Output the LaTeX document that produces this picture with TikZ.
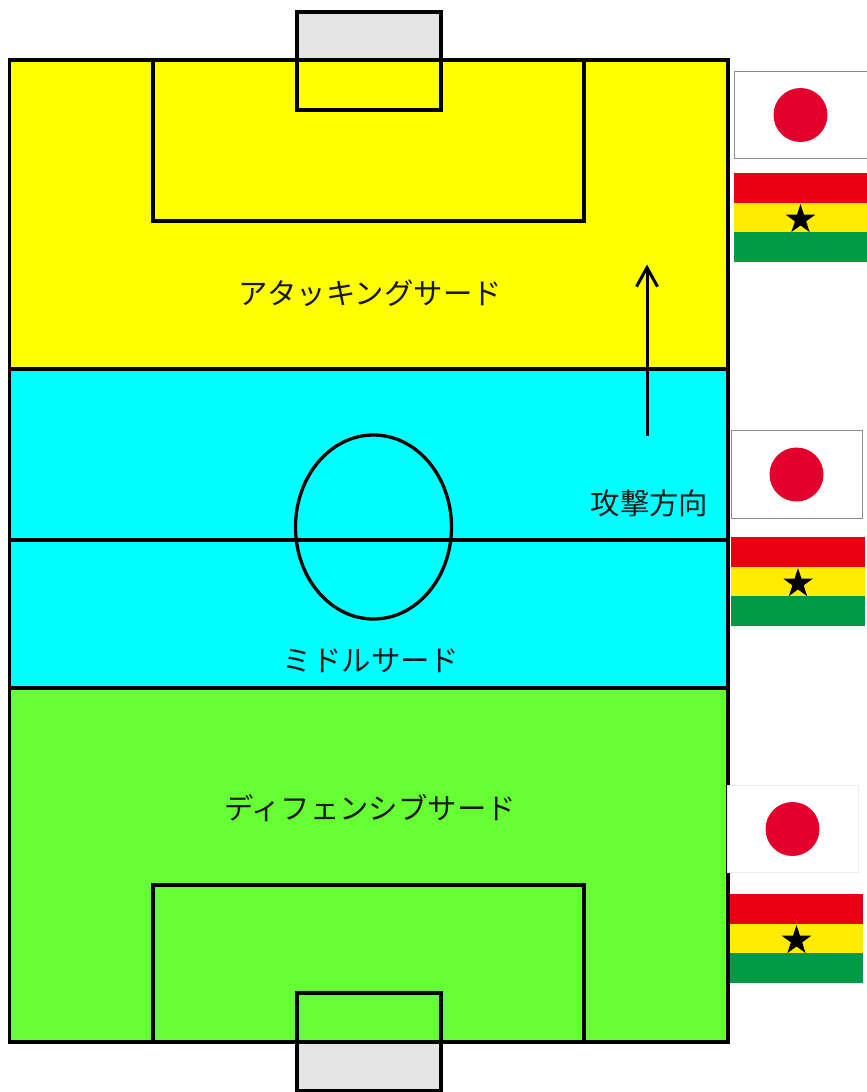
\documentclass[tikz,border=0pt]{standalone}
\usepackage{fontspec}
\setmainfont{Noto Sans CJK JP}
\usepackage{xcolor}
\usetikzlibrary{arrows.meta,shapes.geometric}
\definecolor{attackC}{RGB}{255,255,0}
\definecolor{middleC}{RGB}{0,255,255}
\definecolor{defendC}{RGB}{102,255,51}
\definecolor{netC}{RGB}{228,228,228}
\definecolor{sunC}{RGB}{227,0,45}
\definecolor{ghRedC}{RGB}{232,0,18}
\definecolor{ghYellowC}{RGB}{255,236,0}
\definecolor{ghGreenC}{RGB}{0,153,68}
\tikzset{
    line/.style={draw=black,line width=3.3pt},
    zone label/.style={font=\fontsize{29.4}{29.4}\selectfont,inner sep=0pt,text=black!90},
    ghana star/.style={star,star points=5,star point ratio=2.618,fill=black,
        minimum size=31pt,inner sep=0pt}
}
\begin{document}
\begin{tikzpicture}[x=1pt,y=-1pt]
    \useasboundingbox (0,0) rectangle (867,1092);
    % zones
    \fill[attackC] (9.5,60) rectangle (728,369);
    \fill[middleC] (9.5,369) rectangle (728,688);
    \fill[defendC] (9.5,688) rectangle (728,1042);
    \fill[netC] (297,12) rectangle (441,60);
    \fill[netC] (297,1042) rectangle (441,1090);
    % pitch lines
    \draw[line] (9.5,60) rectangle (728,1042);
    \foreach \y in {369,540,688}
        \draw[line] (9.5,\y) -- (728,\y);
    \draw[line] (373.5,527) ellipse (78 and 92);
    \draw[line] (153,60) rectangle (584,221);
    \draw[line] (153,1042) rectangle (584,885);
    \draw[line] (297,12) rectangle (441,110);
    \draw[line] (297,993) rectangle (441,1090.5);
    % flags
    \foreach \n/\x/\y/\w/\h/\c in {a/734/71/133/87/45,b/731/430/131/88/45,c/727/785/131/87/8}{
        \draw[black!\c,fill=white,line width=1pt] (\x,\y) rectangle (\x+\w,\y+\h);
        \fill[sunC] (\x+\w/2,\y+\h/2+0.5) circle (27);
    }
    \foreach \n/\x/\y/\w in {a/734/173/133,b/731/537/134,c/730/894/133}{
        \fill[ghRedC] (\x,\y) rectangle (\x+\w,\y+29.7);
        \fill[ghYellowC] (\x,\y+29.7) rectangle (\x+\w,\y+59.4);
        \fill[ghGreenC] (\x,\y+59.4) rectangle (\x+\w,\y+89);
        \node[ghana star] (star\n) at (\x+\w/2,\y+46.5) {};
    }
    % labels
    \node[zone label] (attack) at (370,293.5) {アタッキングサード};
    \node[zone label] (middle) at (371,660.5) {ミドルサード};
    \node[zone label] (defend) at (370,808) {ディフェンシブサード};
    \node[zone label] (direction) at (649.5,503) {攻撃方向};
    % attack direction
    \coordinate (dirStart) at (647,436);
    \coordinate (dirEnd) at (647,264.5);
    \draw[-{Straight Barb[length=19pt,width=21pt,line width=3pt]},line width=3pt] (dirStart) -- (dirEnd);
\end{tikzpicture}
\end{document}
